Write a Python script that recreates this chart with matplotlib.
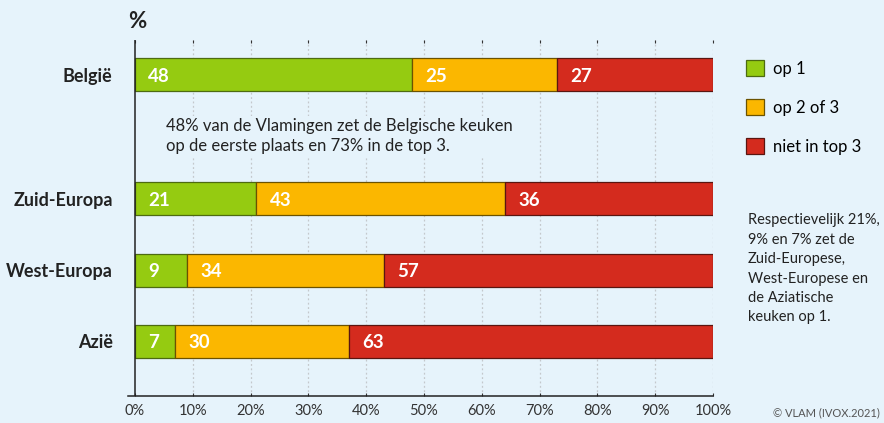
import matplotlib
matplotlib.use('Agg')
import matplotlib.pyplot as plt
import numpy as np

plt.rcParams['font.family'] = ['Lato', 'DejaVu Sans']

categories = ["België", "Zuid-Europa", "West-Europa", "Azië"]
op1 = [48, 21, 9, 7]
op2of3 = [25, 43, 34, 30]
niet_top3 = [27, 36, 57, 63]
series_labels = ["op 1", "op 2 of 3", "niet in top 3"]
xticks = [0, 10, 20, 30, 40, 50, 60, 70, 80, 90, 100]

bg = '#e6f3fb'
colors = ['#95cb11', '#fbb700', '#d42b1e']
edges = ['#4d6b10', '#6b5200', '#5a1510']

# vertical layout in figure pixels (ylim inverted to pixels)
ypos = [75, 199, 270, 341]
bar_h = 33

fig = plt.figure(figsize=(8.84, 4.23), dpi=100, facecolor=bg)
ax = fig.add_axes([128 / 884, 1 - 396 / 423, (713 - 128) / 884, (396 - 40) / 423])
ax.set_facecolor(bg)
ax.set_xlim(-1.21, 100)
ax.set_ylim(396, 40)

for x in xticks[1:]:
    ax.axvline(x, color='#c4c8cc', ls=(0, (1.5, 2)), lw=0.9, zorder=0)

left = np.zeros(len(categories))
for vals, c, ec, lab in zip([op1, op2of3, niet_top3], colors, edges, series_labels):
    ax.barh(ypos, vals, height=bar_h, left=left, color=c, edgecolor=ec,
            linewidth=0.9, zorder=3, label=lab)
    for y, l, v in zip(ypos, left, vals):
        ax.text(l + 2.3, y + 1, str(v), color='white', fontsize=13.5,
                fontweight='bold', ha='left', va='center', zorder=4)
    left += np.array(vals)

ax.axvline(0, color='#222222', lw=1.1, zorder=5)
for s in ['left', 'right', 'top']:
    ax.spines[s].set_visible(False)
ax.spines['bottom'].set_color('#222222')
ax.spines['bottom'].set_linewidth(1.1)

ax.set_xticks(xticks)
ax.set_xticklabels(['{}%'.format(t) for t in xticks], fontsize=10.5, color='#333333')
ax.tick_params(axis='x', top=True, bottom=True, direction='in', length=2,
               width=0.8, color='#333333', pad=6)
ax.set_yticks(ypos)
ax.set_yticklabels(categories, fontsize=13, fontweight='bold', color='#222222')
ax.tick_params(axis='y', length=0, pad=11)

fig.text(128 / 884, 1 - 22 / 423, '%', fontsize=16, fontweight='bold',
         color='#222222', ha='left', va='center')

ax.text(5.3, 136, '48% van de Vlamingen zet de Belgische keuken\nop de eerste plaats en 73% in de top 3.',
        fontsize=12, color='#222222', ha='left', va='center', linespacing=1.35, zorder=6,
        bbox=dict(facecolor=bg, edgecolor='none', pad=1))

ax.legend(loc='upper left', bbox_to_anchor=(746 / 884, 1 - 60 / 423),
          bbox_transform=fig.transFigure, frameon=False, fontsize=12,
          handlelength=1.1, handleheight=1.1, handletextpad=0.5, labelspacing=1.35,
          borderaxespad=0, borderpad=0)

fig.text(748 / 884, 1 - 213 / 423,
         'Respectievelijk 21%,\n9% en 7% zet de\nZuid-Europese,\nWest-Europese en\nde Aziatische\nkeuken op 1.',
         fontsize=10.5, color='#222222', ha='left', va='top', linespacing=1.5)

fig.text(880 / 884, 1 - 413 / 423, '© VLAM (IVOX.2021)', fontsize=8,
         color='#555555', ha='right', va='center')

fig.savefig('out.png', dpi=100, facecolor=bg)
